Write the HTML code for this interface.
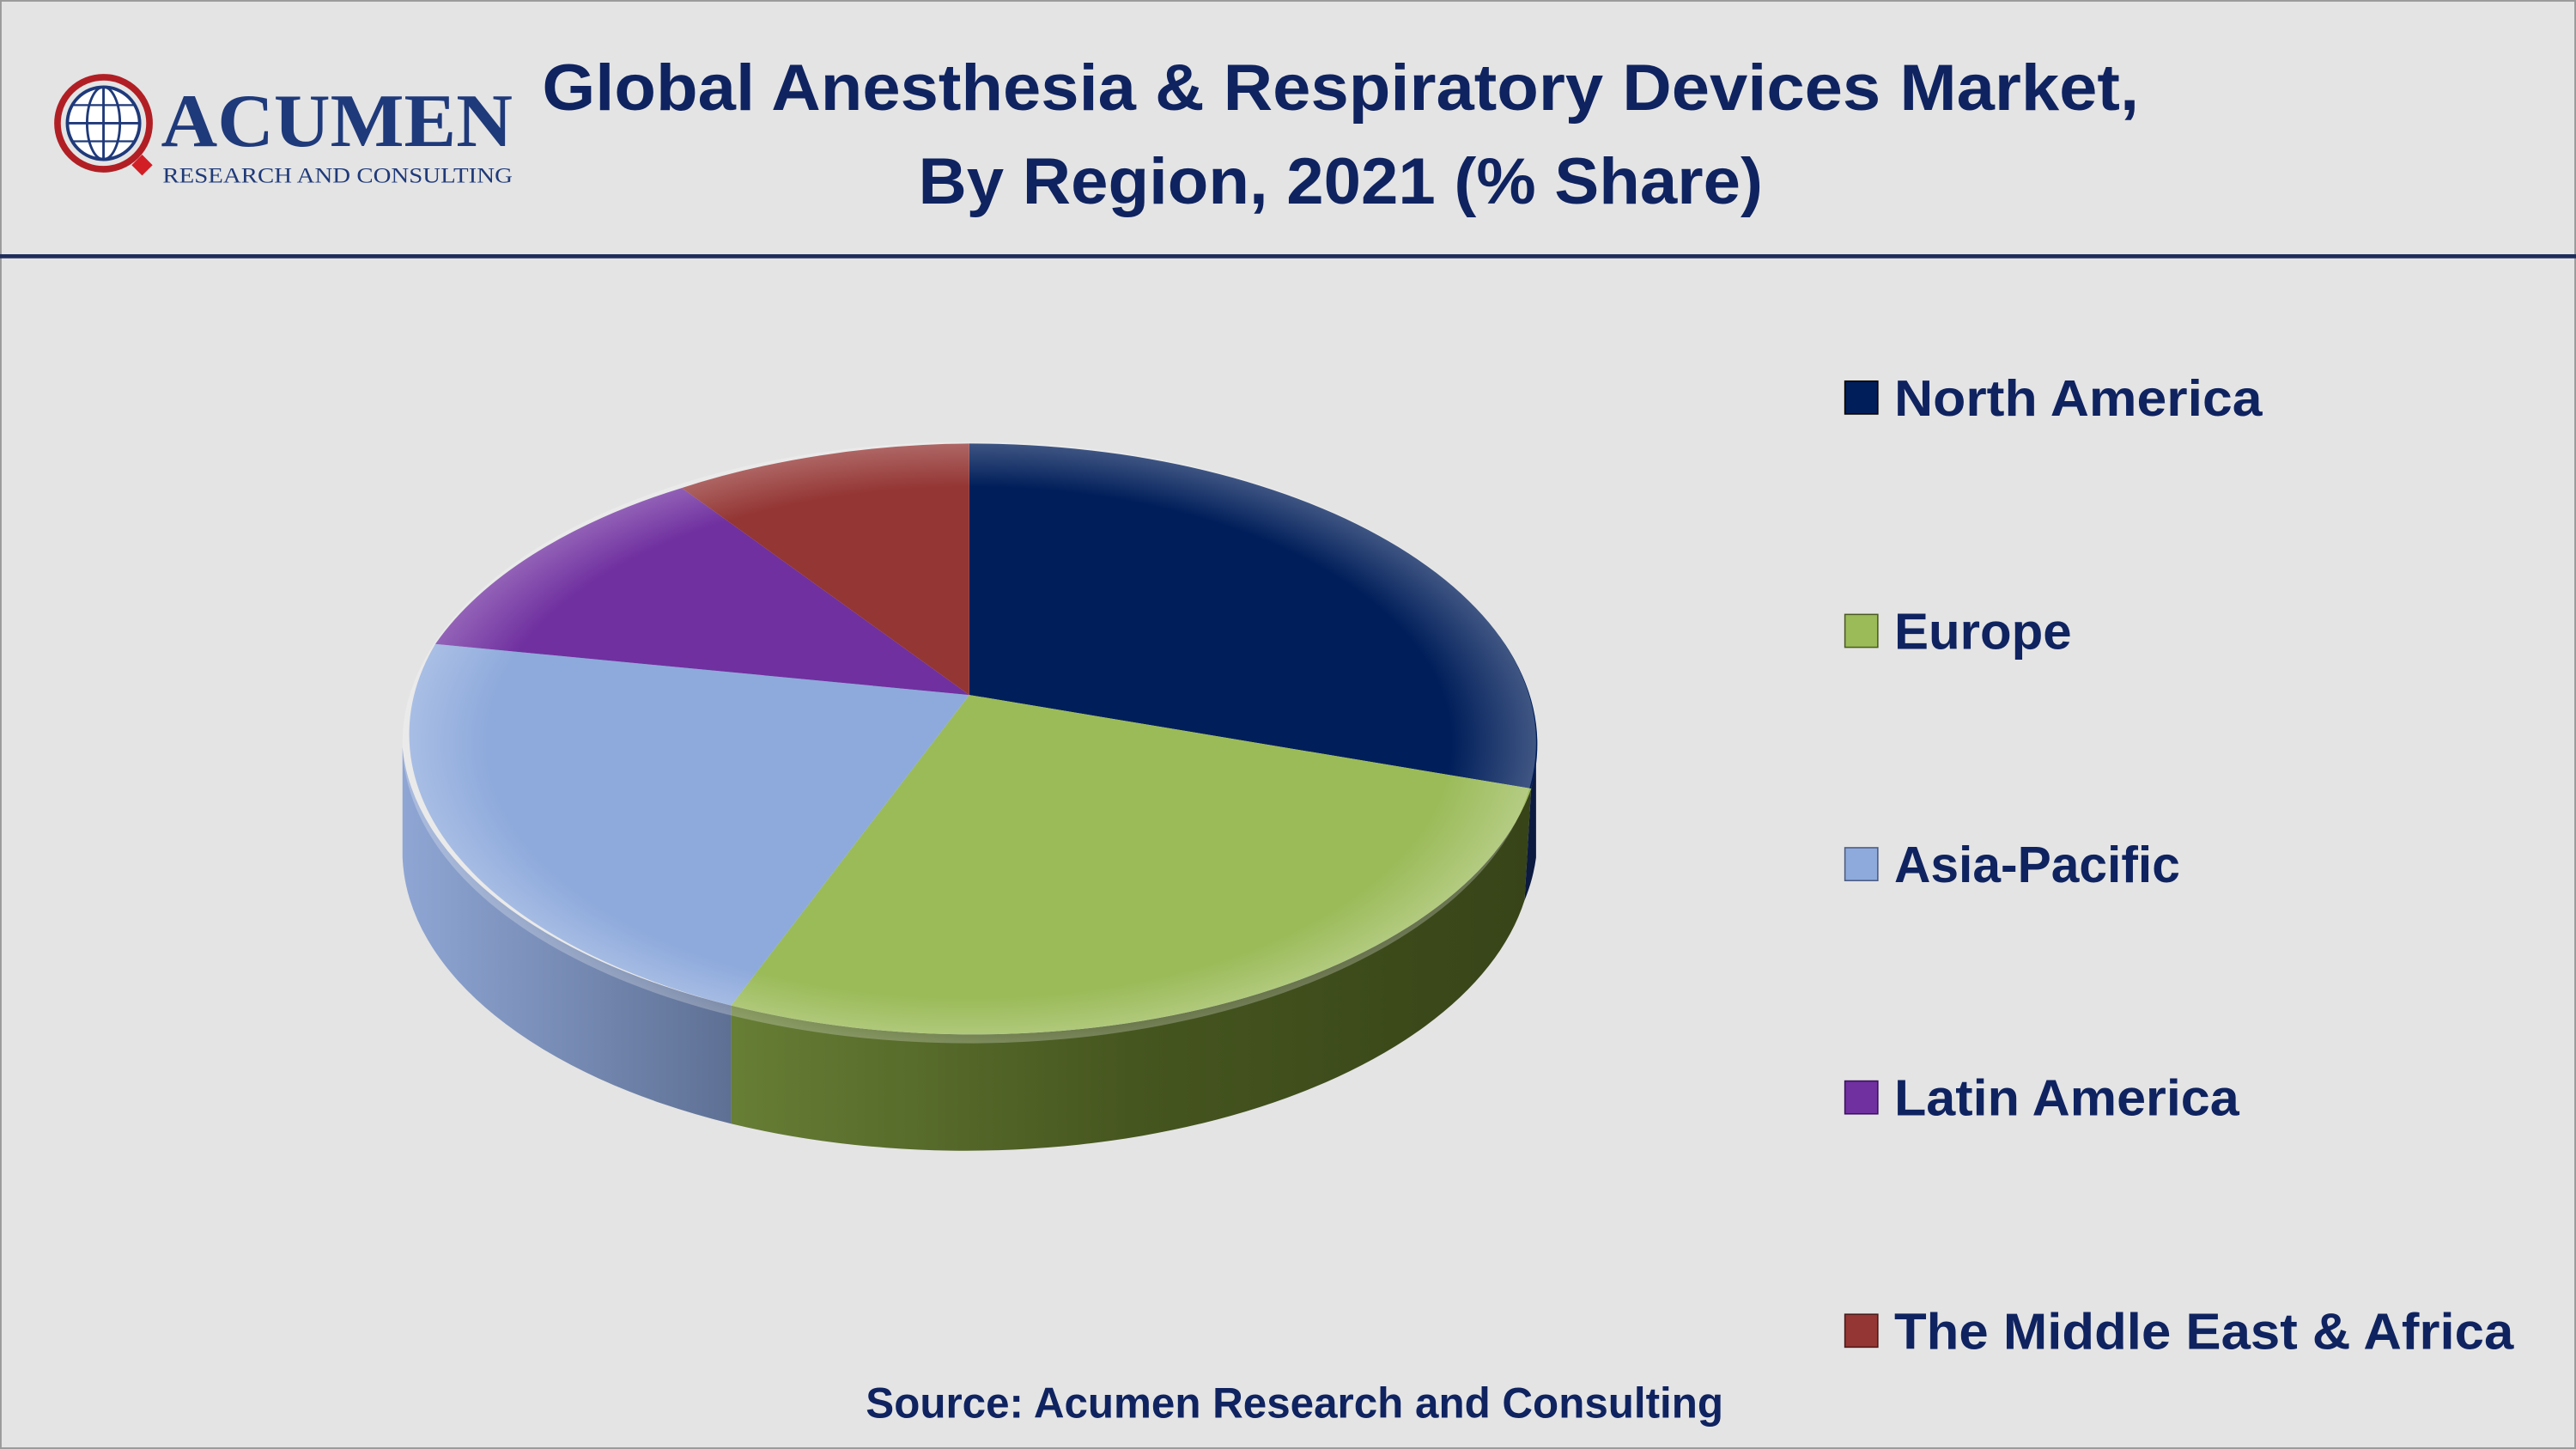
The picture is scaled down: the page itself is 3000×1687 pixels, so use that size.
<!DOCTYPE html>
<html><head><meta charset="utf-8"><style>
html,body{margin:0;padding:0;background:#e4e4e4;}
svg{display:block;}
</style></head><body>
<svg width="3000" height="1687" viewBox="0 0 1568 882" preserveAspectRatio="none" xmlns="http://www.w3.org/2000/svg">
<defs>
<linearGradient id="gAsia" x1="0" x2="1" y1="0" y2="0">
<stop offset="0" stop-color="#8fa6d4"/><stop offset="1" stop-color="#5e7094"/></linearGradient>
<linearGradient id="gEu" x1="0" x2="1" y1="0" y2="0">
<stop offset="0" stop-color="#677e35"/><stop offset="0.5" stop-color="#46561f"/><stop offset="1" stop-color="#374418"/></linearGradient>
<radialGradient id="gTop" cx="0.5" cy="0.5" r="0.5">
<stop offset="0.85" stop-color="#fff" stop-opacity="0"/><stop offset="1" stop-color="#fff" stop-opacity="0.25"/></radialGradient>
</defs>
<rect x="0" y="0" width="1568" height="882" fill="#e4e4e4"/>
<rect x="0.5" y="0.5" width="1567" height="881" fill="none" stroke="#9a9a9a" stroke-width="1"/>
<line x1="0" y1="156" x2="1568" y2="156" stroke="#1f2d5c" stroke-width="2.5"/>

<!-- logo -->
<g>
<circle cx="63" cy="75" r="28" fill="none" stroke="#b11f24" stroke-width="4"/>
<circle cx="63" cy="75" r="22" fill="#fff" stroke="#1f3a7a" stroke-width="2"/>
<ellipse cx="63" cy="75" rx="10" ry="22" fill="none" stroke="#1f3a7a" stroke-width="1.5"/>
<line x1="41" y1="75" x2="85" y2="75" stroke="#1f3a7a" stroke-width="1.5"/>
<line x1="44" y1="64" x2="82" y2="64" stroke="#1f3a7a" stroke-width="1.2"/>
<line x1="44" y1="86" x2="82" y2="86" stroke="#1f3a7a" stroke-width="1.2"/>
<line x1="63" y1="53" x2="63" y2="97" stroke="#1f3a7a" stroke-width="1.5"/>
<rect x="82" y="96" width="9" height="9" fill="#d21f26" transform="rotate(45 86.5 100.5)"/>
<text x="98" y="89" font-family="Liberation Serif, serif" font-size="46" font-weight="bold" fill="#1f3a7a" textLength="214" lengthAdjust="spacingAndGlyphs">ACUMEN</text>
<text x="99" y="111" font-family="Liberation Serif, serif" font-size="13" fill="#1f3a7a" textLength="213" lengthAdjust="spacingAndGlyphs">RESEARCH AND CONSULTING</text>
</g>

<!-- title -->
<text x="816" y="67" text-anchor="middle" font-family="Liberation Sans, sans-serif" font-weight="bold" font-size="40" fill="#0f2360" textLength="972" lengthAdjust="spacingAndGlyphs">Global Anesthesia &amp; Respiratory Devices Market,</text>
<text x="816" y="124" text-anchor="middle" font-family="Liberation Sans, sans-serif" font-weight="bold" font-size="40" fill="#0f2360" textLength="514" lengthAdjust="spacingAndGlyphs">By Region, 2021 (% Share)</text>

<!-- pie sides -->
<path d="M245,455 A345,183 0 0 0 445,612 L445,684 A345,183 0 0 1 245,522 Z" fill="url(#gAsia)"/>
<path d="M445,612 A345,183 0 0 0 932,480 L928,548 A345,183 0 0 1 445,684 Z" fill="url(#gEu)"/>
<path d="M932,480 A345,183 0 0 0 935,455 L935,522 A345,183 0 0 1 928,548 Z" fill="#0c1a40"/>

<!-- top slices -->
<path d="M590,423 L590,270 A345,183 0 0 1 932,480 Z" fill="#001e5a"/>
<path d="M590,423 L932,480 A345,183 0 0 1 445,612 Z" fill="#9bbb59"/>
<path d="M590,423 L445,612 A345,183 0 0 1 265,392 Z" fill="#8eaadc"/>
<path d="M590,423 L265,392 A345,183 0 0 1 415,297 Z" fill="#7030a0"/>
<path d="M590,423 L415,297 A345,183 0 0 1 590,270 Z" fill="#943634"/>
<ellipse cx="590" cy="452" rx="345" ry="183" fill="url(#gTop)"/>

<!-- legend -->
<g font-family="Liberation Sans, sans-serif" font-weight="bold" font-size="31" fill="#0f2360">
<rect x="1123" y="232" width="20" height="20" fill="#001e5a" stroke="#000" stroke-width="0.8"/>
<text x="1153" y="253" textLength="224" lengthAdjust="spacingAndGlyphs">North America</text>
<rect x="1123" y="374" width="20" height="20" fill="#9bbb59" stroke="#4a5a20" stroke-width="0.8"/>
<text x="1153" y="395" textLength="108" lengthAdjust="spacingAndGlyphs">Europe</text>
<rect x="1123" y="516" width="20" height="20" fill="#8eaadc" stroke="#4a5a80" stroke-width="0.8"/>
<text x="1153" y="537" textLength="174" lengthAdjust="spacingAndGlyphs">Asia-Pacific</text>
<rect x="1123" y="658" width="20" height="20" fill="#7030a0" stroke="#3a1060" stroke-width="0.8"/>
<text x="1153" y="679" textLength="210" lengthAdjust="spacingAndGlyphs">Latin America</text>
<rect x="1123" y="800" width="20" height="20" fill="#943634" stroke="#4a1818" stroke-width="0.8"/>
<text x="1153" y="821" textLength="377" lengthAdjust="spacingAndGlyphs">The Middle East &amp; Africa</text>
</g>
<text x="788" y="863" text-anchor="middle" font-family="Liberation Sans, sans-serif" font-weight="bold" font-size="26" fill="#0f2360" textLength="522" lengthAdjust="spacingAndGlyphs">Source: Acumen Research and Consulting</text>
</svg>
</body></html>
